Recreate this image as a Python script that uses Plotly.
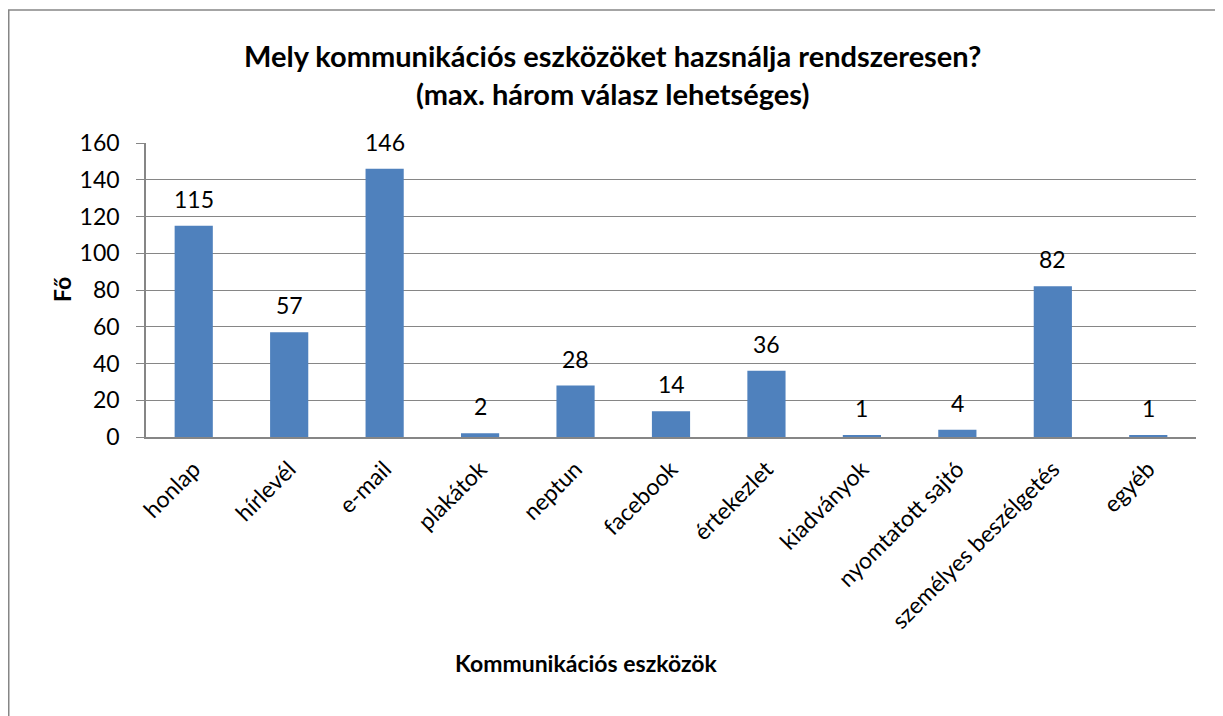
import plotly.graph_objects as go

categories = ["honlap", "hírlevél", "e-mail", "plakátok", "neptun", "facebook",
              "értekezlet", "kiadványok", "nyomtatott sajtó", "személyes beszélgetés", "egyéb"]
values = [115, 57, 146, 2, 28, 14, 36, 1, 4, 82, 1]
y_ticks = [0, 20, 40, 60, 80, 100, 120, 140, 160]

OFF = 8  # browser body margin
W, H = 1223 - OFF, 716 - OFF
L, R, T, B = 146 - OFF, 1196 - OFF, 143 - OFF, 437 - OFF
FONT = "Lato"
GRAY = "#868686"

def px_x(p):
    return (p - OFF - L) / (R - L)

def px_y(p):
    return (B - (p - OFF)) / (B - T)

fig = go.Figure(go.Bar(
    x=categories, y=values,
    marker=dict(color="#4F81BD", line=dict(width=0)),
    cliponaxis=False,
))

label_annotations = [
    dict(x=c, y=v, xref="x", yref="y", text=str(v), showarrow=False,
         yanchor="middle", yshift=27, font=dict(size=23, family=FONT, color="#000000"))
    for c, v in zip(categories, values)
]

fig.update_layout(
    width=W, height=H,
    margin=dict(l=L, r=W - R, t=T, b=H - B),
    paper_bgcolor="white", plot_bgcolor="white",
    bargap=0.6,
    showlegend=False,
    font=dict(family=FONT, color="#000000"),
    xaxis=dict(
        tickangle=-45, tickfont=dict(size=23, family=FONT),
        showline=True, linecolor=GRAY, linewidth=1.5,
        showgrid=False, ticks="", ticklabelstandoff=8,
    ),
    yaxis=dict(
        range=[0, 160], tickvals=y_ticks,
        tickfont=dict(size=23, family=FONT),
        showgrid=True, gridcolor=GRAY, gridwidth=1,
        showline=True, linecolor=GRAY, linewidth=1.5,
        ticks="outside", ticklen=8, tickcolor=GRAY,
        ticklabelstandoff=12,
        zeroline=False,
    ),
    shapes=[dict(
        type="rect", xref="paper", yref="paper",
        x0=px_x(8.75), x1=px_x(1260), y0=px_y(760), y1=px_y(10),
        line=dict(color=GRAY, width=1.5), layer="below",
    )],
    annotations=label_annotations + [
        dict(text="<b>Mely kommunikációs eszközöket hazsnálja rendszeresen?<br>(max. három válasz lehetséges)</b>",
             xref="paper", yref="paper", x=px_x(612), y=px_y(74),
             xanchor="center", yanchor="middle", showarrow=False,
             font=dict(size=29, family=FONT, color="#000000")),
        dict(text="<b>Kommunikációs eszközök</b>", xref="paper", yref="paper",
             x=px_x(586), y=px_y(663), xanchor="center", yanchor="middle",
             showarrow=False, font=dict(size=23, family=FONT, color="#000000")),
        dict(text="<b>Fő</b>", xref="paper", yref="paper",
             x=px_x(62), y=px_y(290), xanchor="center", yanchor="middle",
             textangle=-90, showarrow=False,
             font=dict(size=23, family=FONT, color="#000000")),
    ],
)

fig.write_html("out.html")
